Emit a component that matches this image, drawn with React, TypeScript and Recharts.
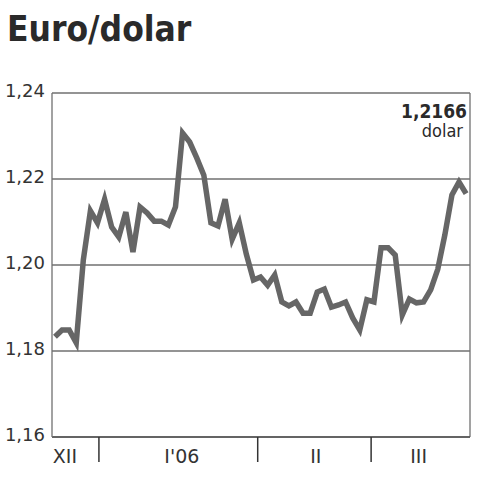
import { LineChart, Line, XAxis, YAxis, CartesianGrid, ReferenceLine } from "recharts";

// daily euro/dollar fixings, Dec 2005 - Mar 2006
const rates = [
  1.1833, 1.1849, 1.1849, 1.1819, 1.2012, 1.2126, 1.2098, 1.2153, 1.2088, 1.2065,
  1.2123, 1.203, 1.2135, 1.2121, 1.2102, 1.2102, 1.2093, 1.2135, 1.2307, 1.2286,
  1.2249, 1.2209, 1.2098, 1.2091, 1.2153, 1.206, 1.2098, 1.2025, 1.1965, 1.1972,
  1.1953, 1.1977, 1.1914, 1.1905, 1.1914, 1.1888, 1.1888, 1.1937, 1.1944, 1.1902,
  1.1907, 1.1914, 1.1877, 1.1849, 1.1919, 1.1914, 1.204, 1.204, 1.2023, 1.1884,
  1.1921, 1.1912, 1.1914, 1.1942, 1.199, 1.207, 1.2163, 1.2193, 1.2166,
];

const yTicks = [1.16, 1.18, 1.2, 1.22, 1.24];

// month boundaries (in trading-day index) and month labels
const monthSeparators = [6.2, 28.6, 44.6];
const monthLabels = ["XII", "I'06", "II", "III"];
const monthLabelPos = [1.4, 17.9, 36.8, 51.3];

const lastValue = "1,2166";
const lastUnit = "dolar";

const data = rates.map((v, i) => ({ i, v }));
const xDomain = [-0.42, rates.length - 1 + 0.55];

const MonthTick = (props: any) => {
  const { x, y, payload } = props;
  const v = payload.value;
  const li = monthLabelPos.indexOf(v);
  if (li >= 0) {
    return (
      <text x={x} y={y + 26} textAnchor="middle" fontFamily="DejaVu Sans" fontSize={19} fill="#333">
        {monthLabels[li]}
      </text>
    );
  }
  return <line x1={x} x2={x} y1={y} y2={y + 25} stroke="#333" strokeWidth={1.5} />;
};

const App = () => {
  return (
    <div style={{ position: "absolute", left: 0, top: 0, width: 480, height: 480, background: "#fff" }}>
      <div
        style={{
          position: "absolute",
          left: 7,
          top: 9,
          fontFamily: "DejaVu Sans Condensed",
          fontWeight: "bold",
          fontSize: 35,
          color: "#2a2a2a",
        }}
      >
        Euro/dolar
      </div>
      <LineChart width={480} height={480} data={data} margin={{ top: 93, right: 10, left: 0, bottom: 0 }}>
        <CartesianGrid vertical={false} stroke="#707070" strokeWidth={1.3} />
        <XAxis
          dataKey="i"
          type="number"
          domain={xDomain}
          ticks={[...monthSeparators, ...monthLabelPos]}
          interval={0}
          height={43}
          tickLine={false}
          tickSize={0}
          tickMargin={0}
          tick={<MonthTick />}
          axisLine={{ stroke: "#555", strokeWidth: 1.5 }}
        />
        <YAxis
          domain={[1.16, 1.24]}
          ticks={yTicks}
          width={52}
          tickLine={false}
          tickSize={5}
          tickMargin={2}
          tickFormatter={(t: number) => t.toFixed(2).replace(".", ",")}
          tick={{ fontFamily: "DejaVu Sans", fontSize: 18, fill: "#333", dy: -2 }}
          axisLine={{ stroke: "#707070", strokeWidth: 1.3 }}
        />
        <ReferenceLine x={xDomain[1]} stroke="#707070" strokeWidth={1.3} />
        <Line
          type="linear"
          dataKey="v"
          stroke="#666"
          strokeWidth={5.5}
          dot={false}
          isAnimationActive={false}
        />
      </LineChart>
      <div
        style={{
          position: "absolute",
          right: 13,
          top: 101,
          textAlign: "right",
          fontFamily: "DejaVu Sans Condensed",
          color: "#2a2a2a",
          lineHeight: "20px",
        }}
      >
        <div style={{ fontWeight: "bold", fontSize: 19 }}>{lastValue}</div>
        <div style={{ fontSize: 18, marginRight: 4 }}>{lastUnit}</div>
      </div>
    </div>
  );
};

export default App;
